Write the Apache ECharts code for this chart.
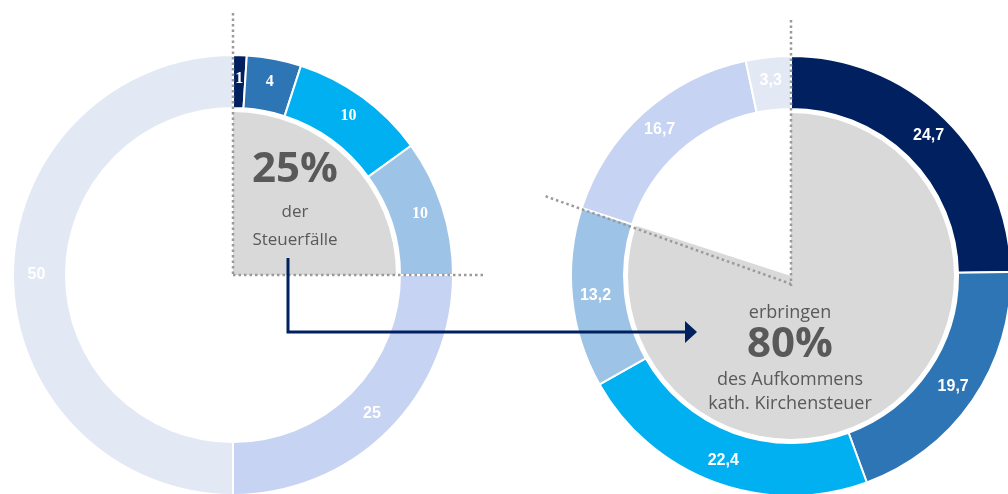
<!DOCTYPE html>
<html>
<head>
<meta charset="utf-8">
<script src="https://cdn.jsdelivr.net/npm/echarts@6/dist/echarts.min.js"></script>
<style>
  html, body { margin: 0; padding: 0; background: #fff; }
  #main { width: 1008px; height: 494px; }
</style>
</head>
<body>
<div id="main"></div>
<script>
// Daten
const groups = ['g1', 'g2', 'g3', 'g4', 'g5', 'g6']
const steuerfaelle = [1, 4, 10, 10, 25, 50]
const aufkommen = [24.7, 19.7, 22.4, 13.2, 16.7, 3.3]
const anteilFaelle = 25
const anteilAufkommen = 80
const colors = ['#002060', '#2e75b6', '#00b0f0', '#9dc3e6', '#c6d3f2', '#e3e8f5']

const chart = echarts.init(document.getElementById('main'))

const leftC = [233, 275]
const rightC = [791, 276]
const ringR = [167, 220]
const grayR = 163
const dotColor = '#9a9a9a'
const navy = '#002060'
const textGray = '#595959'

function ring(center, values, serif) {
  return {
    type: 'pie',
    center: center,
    radius: ringR,
    startAngle: 90,
    clockwise: true,
    avoidLabelOverlap: false,
    silent: true,
    itemStyle: { borderColor: '#fff', borderWidth: 2 },
    label: {
      show: true,
      position: 'inside',
      color: '#fff',
      fontWeight: 'bold',
      fontSize: 16,
      fontFamily: 'Liberation Sans',
      formatter: p => String(p.value).replace('.', ',')
    },
    labelLine: { show: false },
    data: values.map((v, i) => ({
      name: groups[i],
      value: v,
      itemStyle: { color: colors[i] },
      label: serif && i < 4 ? { fontFamily: 'Liberation Serif' } : {}
    }))
  }
}

function grauSektor(center, share) {
  return {
    type: 'pie',
    center: center,
    radius: [0, grayR],
    startAngle: 90,
    clockwise: true,
    silent: true,
    z: 1,
    label: { show: false },
    labelLine: { show: false },
    data: [
      { value: share, itemStyle: { color: '#d9d9d9' } },
      { value: 100 - share, itemStyle: { color: 'rgba(0,0,0,0)' } }
    ]
  }
}

// gepunktete Hilfslinien
function dotted(x1, y1, x2, y2) {
  return {
    type: 'line',
    z: 100,
    shape: { x1: x1, y1: y1, x2: x2, y2: y2 },
    style: { stroke: dotColor, lineWidth: 2.5, lineDash: [2.5, 3] }
  }
}
const ang = anteilAufkommen / 100 * 2 * Math.PI
const slantLen = 258

function txt(x, y, s, size, weight) {
  return {
    type: 'text',
    z: 100,
    x: x,
    y: y,
    style: {
      text: s,
      fill: textGray,
      fontSize: size,
      fontWeight: weight || 'normal',
      fontFamily: 'Open Sans',
      align: 'center',
      verticalAlign: 'middle'
    }
  }
}

const option = {
  animation: false,
  series: [
    ring(leftC, steuerfaelle, true),
    grauSektor(leftC, anteilFaelle),
    ring(rightC, aufkommen, false),
    grauSektor(rightC, anteilAufkommen)
  ],
  graphic: [
    dotted(leftC[0], 13, leftC[0], leftC[1]),
    dotted(leftC[0], leftC[1], 486, leftC[1]),
    dotted(rightC[0], 20, rightC[0], rightC[1] + 10),
    dotted(rightC[0] + Math.sin(ang) * slantLen, rightC[1] - Math.cos(ang) * slantLen, rightC[0], rightC[1] + 8),
    txt(295, 170, anteilFaelle + '%', 42, 'bold'),
    txt(295, 212, 'der', 17),
    txt(295, 240, 'Steuerfälle', 17),
    txt(790, 313, 'erbringen', 18),
    txt(790, 345, anteilAufkommen + '%', 42, 'bold'),
    txt(790, 380, 'des Aufkommens', 18),
    txt(790, 404, 'kath. Kirchensteuer', 18),
    {
      type: 'polyline',
      z: 100,
      shape: { points: [[288, 258], [288, 332], [688, 332]] },
      style: { stroke: navy, lineWidth: 3, fill: null }
    },
    {
      type: 'polygon',
      z: 100,
      shape: { points: [[685, 321], [697, 332], [685, 343]] },
      style: { fill: navy }
    }
  ]
}

chart.setOption(option)
</script>
</body>
</html>
